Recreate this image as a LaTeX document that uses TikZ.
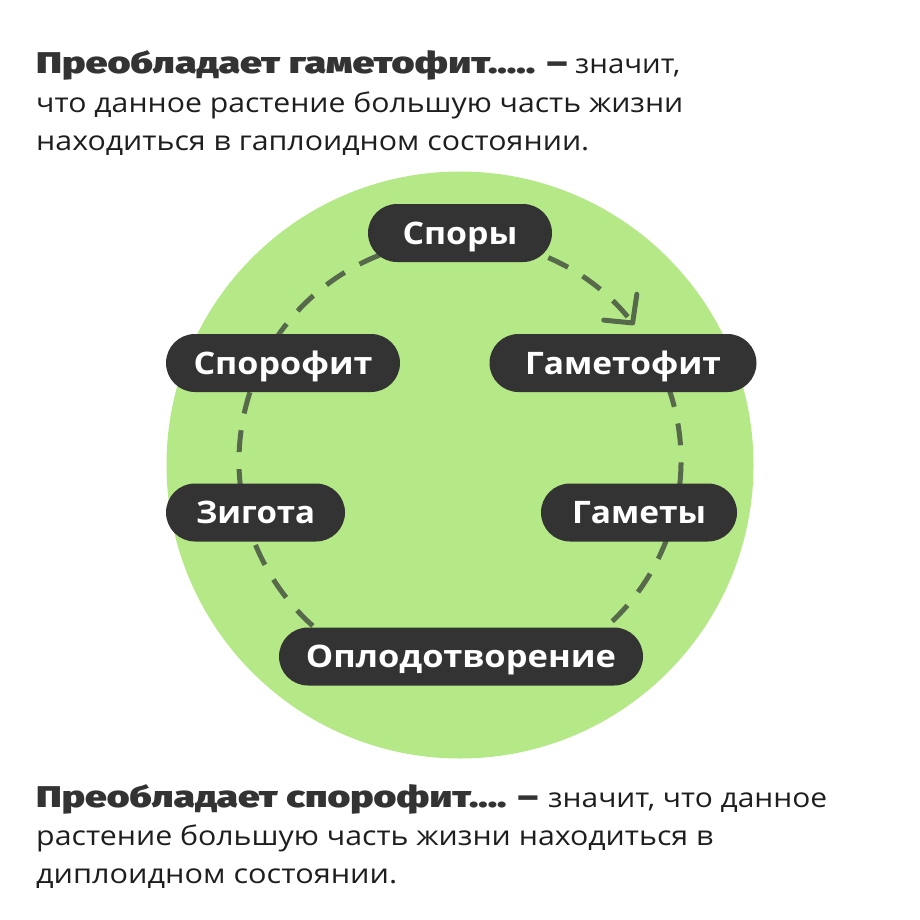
\documentclass[tikz,border=0pt]{standalone}
\usepackage{fontspec}
\usepackage{graphicx}
\setmainfont{Open Sans}
\IfFontExistsTF{Fira Sans Heavy}{\newfontfamily\hfam{Fira Sans Heavy}\newcommand\hf{\hfam}}{%
  \IfFontExistsTF{Fira Sans Black}{\newfontfamily\hfam{Fira Sans Black}\newcommand\hf{\hfam}}{%
    \newcommand\hf{\bfseries}}}
\usetikzlibrary{arrows.meta,calc}
\definecolor{bgGreen}{HTML}{B5E887}
\definecolor{pillDark}{HTML}{333333}
\definecolor{dashGreen}{HTML}{566A4B}
\definecolor{headGray}{HTML}{333333}
\definecolor{bodyInk}{HTML}{1E1E1E}
\newcommand\fitw[2]{\resizebox{#1}{\height}{#2}}
\tikzset{
  pill/.style={draw=none, fill=pillDark, text=white, rounded corners=29pt,
    minimum height=58pt, inner sep=0pt, text height=26pt, text depth=4pt,
    font=\fontsize{31pt}{36pt}\selectfont\bfseries},
  bodyline/.style={anchor=base west, inner sep=0pt, text=bodyInk,
    font=\fontsize{27pt}{36pt}\selectfont},
  headline/.style={anchor=base west, inner sep=0pt, text=headGray,
    font=\fontsize{30pt}{36pt}\selectfont\hf},
  cycle/.style={draw=dashGreen, line width=5pt, dash pattern=on 22pt off 17pt},
}
\begin{document}
\begin{tikzpicture}[x=1pt,y=-1pt]
\useasboundingbox (0,0) rectangle (920,920);
\node[circle, fill=bgGreen, minimum size=587pt, inner sep=0pt] (bg) at (460,465) {};
\coordinate (cc) at (460,461);
\draw[cycle, -{Straight Barb[length=20pt,width=42pt,line cap=round,line join=round]}]
  ($(cc)+(-30:221)$) arc[start angle=-30, end angle=322, radius=221];
\node[pill, minimum width=184pt] (spory) at (460,233) {\fitw{115pt}{Споры}};
\node[pill, minimum width=234pt] (sporofit) at (283,363) {\fitw{179pt}{Спорофит}};
\node[pill, minimum width=267pt] (gametofit) at (623,363) {\fitw{196pt}{Гаметофит}};
\node[pill, minimum width=179pt] (zigota) at (255.5,512.5) {\fitw{119pt}{Зигота}};
\node[pill, minimum width=196pt] (gamety) at (639,512.5) {\fitw{134pt}{Гаметы}};
\node[pill, minimum width=364pt] (oplod) at (461,656.5) {\fitw{310pt}{Оплодотворение}};
% top text
\node[headline] (t1a) at (36,74) {\fitw{531pt}{Преобладает гаметофит..... –}};
\node[bodyline] (t1b) at (575,74) {\fitw{105pt}{значит,}};
\node[bodyline] (t2) at (36,113) {\fitw{647pt}{что данное растение большую часть жизни}};
\node[bodyline] (t3) at (36,151) {\fitw{553pt}{находиться в гаплоидном состоянии.}};
% bottom text
\node[headline] (b1a) at (36,807) {\fitw{502pt}{Преобладает спорофит.... –}};
\node[bodyline] (b1b) at (548,807) {\fitw{279pt}{значит, что данное}};
\node[bodyline] (b2) at (36,845) {\fitw{677pt}{растение большую часть жизни находиться в}};
\node[bodyline] (b3) at (36,883) {\fitw{361pt}{диплоидном состоянии.}};
\end{tikzpicture}
\end{document}
